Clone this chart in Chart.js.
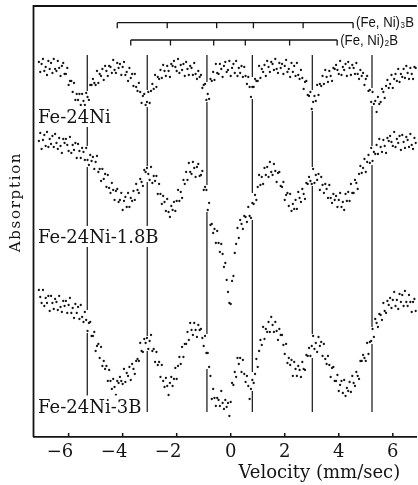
<!DOCTYPE html>
<html><head><meta charset="utf-8">
<script src="https://cdn.jsdelivr.net/npm/chart.js@4.4.1/dist/chart.umd.min.js"></script>
<style>html,body{margin:0;padding:0;background:#fff;}canvas{display:block;}</style>
</head><body>
<canvas id="c" width="418" height="485"></canvas>
<script>
// Velocity channels (mm/sec)
const velocity = [
-7.1,-7.05,-7,-6.95,-6.9,-6.85,-6.8,-6.75,-6.7,-6.65,-6.6,-6.55,-6.5,-6.45,-6.4,-6.35,-6.3,-6.25,-6.2,-6.15,
-6.1,-6.05,-6,-5.95,-5.9,-5.85,-5.8,-5.75,-5.7,-5.65,-5.6,-5.55,-5.5,-5.45,-5.4,-5.35,-5.3,-5.25,-5.2,-5.15,
-5.1,-5.05,-5,-4.95,-4.9,-4.85,-4.8,-4.75,-4.7,-4.65,-4.6,-4.55,-4.5,-4.45,-4.4,-4.35,-4.3,-4.25,-4.2,-4.15,
-4.1,-4.05,-4,-3.95,-3.9,-3.85,-3.8,-3.75,-3.7,-3.65,-3.6,-3.55,-3.5,-3.45,-3.4,-3.35,-3.3,-3.25,-3.2,-3.15,
-3.1,-3.05,-3,-2.95,-2.9,-2.85,-2.8,-2.75,-2.7,-2.65,-2.6,-2.55,-2.5,-2.45,-2.4,-2.35,-2.3,-2.25,-2.2,-2.15,
-2.1,-2.05,-2,-1.95,-1.9,-1.85,-1.8,-1.75,-1.7,-1.65,-1.6,-1.55,-1.5,-1.45,-1.4,-1.35,-1.3,-1.25,-1.2,-1.15,
-1.1,-1.05,-1,-0.95,-0.9,-0.85,-0.8,-0.75,-0.7,-0.65,-0.6,-0.55,-0.5,-0.45,-0.4,-0.35,-0.3,-0.25,-0.2,-0.15,
-0.1,-0.05,0,0.05,0.1,0.15,0.2,0.25,0.3,0.35,0.4,0.45,0.5,0.55,0.6,0.65,0.7,0.75,0.8,0.85,
0.9,0.95,1,1.05,1.1,1.15,1.2,1.25,1.3,1.35,1.4,1.45,1.5,1.55,1.6,1.65,1.7,1.75,1.8,1.85,
1.9,1.95,2,2.05,2.1,2.15,2.2,2.25,2.3,2.35,2.4,2.45,2.5,2.55,2.6,2.65,2.7,2.75,2.8,2.85,
2.9,2.95,3,3.05,3.1,3.15,3.2,3.25,3.3,3.35,3.4,3.45,3.5,3.55,3.6,3.65,3.7,3.75,3.8,3.85,
3.9,3.95,4,4.05,4.1,4.15,4.2,4.25,4.3,4.35,4.4,4.45,4.5,4.55,4.6,4.65,4.7,4.75,4.8,4.85,
4.9,4.95,5,5.05,5.1,5.15,5.2,5.25,5.3,5.35,5.4,5.45,5.5,5.55,5.6,5.65,5.7,5.75,5.8,5.85,
5.9,5.95,6,6.05,6.1,6.15,6.2,6.25,6.3,6.35,6.4,6.45,6.5,6.55,6.6,6.65,6.7,6.75,6.8,6.85
];
// Offset transmission (arb. units), Fe-24Ni
const feNi = [
375,365,373,378,366,370,362,376,368,374,364,378,368,366,376,369,361,371,374,363,
363,369,352,356,356,345,354,337,343,337,343,332,343,336,332,344,340,337,352,352,
358,354,352,366,354,363,361,368,357,371,366,361,371,370,364,377,367,364,374,369,
373,362,370,375,362,365,356,369,359,363,351,363,350,346,354,345,334,341,343,332,
335,345,334,346,353,348,362,350,360,358,367,359,372,366,361,371,366,360,373,371,
376,370,366,378,364,372,367,373,361,375,368,362,371,369,362,374,363,358,366,360,
362,349,352,353,337,343,338,358,356,365,357,373,364,363,373,368,360,371,375,365,
367,376,361,369,373,364,376,361,369,364,371,360,370,361,353,360,350,340,350,350,
358,356,356,371,359,368,365,372,361,376,370,365,375,373,367,378,368,364,374,369,
373,363,371,377,365,368,360,374,365,371,361,374,362,358,367,359,348,355,356,342,
341,345,328,335,341,336,352,342,353,351,361,353,367,360,355,366,361,356,369,368,
372,367,363,376,362,370,367,373,361,375,369,362,372,369,363,374,363,358,367,361,
364,352,358,361,346,347,335,345,333,336,325,340,333,335,348,345,339,351,357,349,
353,362,349,358,363,356,368,355,363,360,368,359,371,364,358,369,363,358,370,369
];
// Fe-24Ni-1.8B
const feNi18B = [
296,304,288,297,302,291,305,290,298,293,301,290,303,294,288,299,291,284,298,294,
298,292,286,300,284,292,287,294,279,293,286,279,289,285,277,289,277,272,282,276,
280,268,275,281,265,268,256,268,258,263,250,262,249,244,254,247,237,246,248,235,
237,244,227,236,240,230,244,230,239,236,246,237,253,247,244,258,255,251,267,265,
269,263,257,270,254,261,256,261,243,253,243,233,241,235,226,238,225,220,231,227,
235,226,236,247,236,245,239,257,253,265,257,274,265,263,275,269,260,270,273,261,
262,266,247,250,247,227,234,212,213,204,208,194,206,194,185,193,183,170,174,157,
145,134,133,156,161,184,193,209,199,217,213,208,221,220,215,230,221,219,234,233,
242,237,250,262,252,260,253,269,262,270,260,275,265,262,273,266,255,264,265,251,
250,255,237,242,244,231,243,226,233,228,237,228,245,239,235,248,243,238,254,253,
260,256,253,268,254,262,257,263,247,260,252,244,253,248,239,252,239,234,243,237,
241,230,237,244,230,235,227,243,236,245,236,253,244,244,257,254,248,263,271,264,
269,278,265,275,282,274,289,276,285,283,292,283,298,290,285,297,291,284,299,296,
301,295,291,305,290,298,294,301,287,302,295,289,300,297,290,303,292,288,299,294
];
// Fe-24Ni-3B
const feNi3B = [
147,140,134,147,131,139,134,141,126,141,134,128,138,135,127,141,130,125,136,131,
136,124,132,139,124,129,119,133,124,130,118,132,120,115,125,117,106,114,115,101,
101,105,86,91,93,79,90,71,76,68,71,56,67,56,48,58,50,42,56,54,
60,56,53,68,55,64,61,70,57,73,68,63,76,78,76,94,86,85,98,94,
99,88,96,102,86,88,75,85,72,75,60,72,56,50,59,51,42,54,60,51,
58,69,58,71,80,73,90,80,93,93,105,97,114,107,102,114,107,100,112,107,
108,99,91,101,84,84,70,61,38,48,39,31,39,37,31,46,34,28,37,30,
34,21,35,54,52,65,60,79,73,79,65,77,63,55,61,51,38,48,57,54,
63,78,70,86,97,92,110,98,108,105,115,105,120,112,105,115,106,97,108,102,
102,92,83,93,74,79,72,77,61,75,68,61,71,67,60,75,68,67,82,81,
89,81,91,101,88,94,85,100,91,95,81,93,78,73,81,72,60,69,70,56,
56,62,46,52,56,44,57,41,49,46,55,45,61,54,51,65,61,58,76,76,
82,79,76,94,83,95,96,108,100,118,114,110,123,122,117,134,126,124,136,132,
139,129,137,145,131,137,128,143,135,142,131,146,135,131,142,135,125,135,138,126
];
const tickValues = [-6, -4, -2, 0, 2, 4, 6];
const alphaFeLines = [-5.31, -3.09, -0.88, 0.80, 3.02, 5.23];
const lineSpan = [25, 382];
const feNi3BTicks = [-4.20, -2.35, -0.52, 0.84, 2.68, 4.53];
const feNi2BTicks = [-3.70, -2.23, -0.63, 0.54, 2.18, 3.94];
const bracketLevels = [414.3, 397];
const bracketLabels = ['(Fe, Ni)\u2083B', '(Fe, Ni)\u2082B'];
const sampleLabels = ['Fe-24Ni', 'Fe-24Ni-1.8B', 'Fe-24Ni-3B'];
const sampleLabelLevels = [314, 194, 24.5];
const xTitle = 'Velocity (mm/sec)';
const yTitle = 'Absorption';

const INK = '#141414';
const SERIF = '"DejaVu Serif", "Liberation Serif", serif';
const series = [feNi, feNi18B, feNi3B];

const mossPlugin = {
  id: 'moss',
  beforeDatasetsDraw(chart) {
    const {ctx, chartArea: a, scales: {x, y}} = chart;
    ctx.save();
    ctx.strokeStyle = INK;
    ctx.lineWidth = 1.8;
    ctx.beginPath();
    ctx.moveTo(a.left, a.bottom); ctx.lineTo(a.left, a.top); ctx.lineTo(a.right, a.top);
    ctx.stroke();
    ctx.lineWidth = 1.5;
    ctx.beginPath();
    tickValues.forEach(v => { const px = x.getPixelForValue(v); ctx.moveTo(px, a.bottom); ctx.lineTo(px, a.bottom - 4); });
    ctx.stroke();
    // alpha-Fe reference lines, broken where spectra cross
    ctx.lineWidth = 1.2;
    alphaFeLines.forEach(v0 => {
      const px = x.getPixelForValue(v0);
      const top = y.getPixelForValue(lineSpan[1]), bot = y.getPixelForValue(lineSpan[0]);
      const gaps = [];
      series.forEach(s => {
        let lo = Infinity, hi = -Infinity;
        velocity.forEach((v, i) => {
          if (Math.abs(v - v0) <= 0.1) { const py = y.getPixelForValue(s[i]); lo = Math.min(lo, py); hi = Math.max(hi, py); }
        });
        if (lo <= hi) gaps.push([lo - 2, hi + 2]);
      });
      gaps.sort((p, q) => p[0] - q[0]);
      let cur = top;
      ctx.beginPath();
      gaps.forEach(([g0, g1]) => {
        if (g0 > cur) { ctx.moveTo(px, cur); ctx.lineTo(px, Math.min(g0, bot)); }
        cur = Math.max(cur, g1);
      });
      if (cur < bot) { ctx.moveTo(px, cur); ctx.lineTo(px, bot); }
      ctx.stroke();
    });
    // boride line-position brackets
    ctx.lineWidth = 1.3;
    [feNi3BTicks, feNi2BTicks].forEach((tk, k) => {
      const py = y.getPixelForValue(bracketLevels[k]);
      const xs = tk.map(v => x.getPixelForValue(v));
      ctx.beginPath();
      ctx.moveTo(xs[0], py); ctx.lineTo(xs[xs.length - 1], py);
      xs.forEach(px => { ctx.moveTo(px, py); ctx.lineTo(px, py + 5.5); });
      ctx.stroke();
    });
    ctx.restore();
  },
  afterDatasetsDraw(chart) {
    const {ctx, chartArea: a, scales: {x, y}} = chart;
    ctx.save();
    ctx.font = '18px ' + SERIF;
    ctx.textAlign = 'left';
    ctx.textBaseline = 'alphabetic';
    sampleLabels.forEach((t, k) => {
      const py = y.getPixelForValue(sampleLabelLevels[k]);
      const px = a.left + 4.5;
      const w = ctx.measureText(t).width;
      ctx.fillStyle = '#fff';
      ctx.fillRect(px - 2, py - 17, w + 4, 21);
      ctx.fillStyle = INK;
      ctx.fillText(t, px, py);
    });
    ctx.font = '15px "Liberation Sans", "DejaVu Sans", sans-serif';
    ctx.textBaseline = 'middle';
    bracketLabels.forEach((t, k) => {
      const tk = k ? feNi2BTicks : feNi3BTicks;
      const px = x.getPixelForValue(tk[tk.length - 1]) + 3;
      const py = y.getPixelForValue(bracketLevels[k]) + 0.5;
      const w = ctx.measureText(t).width;
      ctx.save(); ctx.translate(px, py); ctx.scale(58 / w, 1); ctx.fillText(t, 0, 0); ctx.restore();
    });
    ctx.font = '18px ' + SERIF;
    ctx.textAlign = 'center';
    ctx.textBaseline = 'alphabetic';
    ctx.fillText(xTitle, x.getPixelForValue(3.28), a.bottom + 41);
    ctx.save();
    ctx.font = '15px ' + SERIF;
    ctx.letterSpacing = '1.7px';
    ctx.translate(a.left - 17, 202);
    ctx.rotate(-Math.PI / 2);
    ctx.textBaseline = 'middle';
    ctx.fillText(yTitle, 0, 0);
    ctx.restore();
    ctx.restore();
  }
};

const mk = s => velocity.map((v, i) => ({x: v, y: s[i]}));
new Chart(document.getElementById('c'), {
  type: 'scatter',
  data: { datasets: [
    {label: sampleLabels[0], data: mk(feNi)},
    {label: sampleLabels[1], data: mk(feNi18B)},
    {label: sampleLabels[2], data: mk(feNi3B)}
  ]},
  options: {
    responsive: false, animation: false, devicePixelRatio: 1,
    layout: {padding: {left: 33.5, top: 6, right: 0, bottom: 0}},
    plugins: {legend: {display: false}, tooltip: {enabled: false}},
    elements: {point: {radius: 1.15, borderWidth: 0, backgroundColor: INK, hoverRadius: 1.15}},
    scales: {
      x: {
        type: 'linear', min: -7.30, max: 6.89,
        afterBuildTicks: s => { s.ticks = tickValues.map(v => ({value: v})); },
        afterFit: s => { s.height = 48; },
        grid: {display: false, drawTicks: false},
        border: {display: true, color: INK, width: 1.8},
        ticks: {
          autoSkip: false, maxRotation: 0, padding: 5, color: INK,
          font: {family: SERIF, size: 18},
          callback: v => v < 0 ? '\u2212' + Math.abs(v) + '   ' : String(v)
        }
      },
      y: {display: false, min: 0, max: 431}
    }
  },
  plugins: [mossPlugin]
});
</script>
</body></html>
